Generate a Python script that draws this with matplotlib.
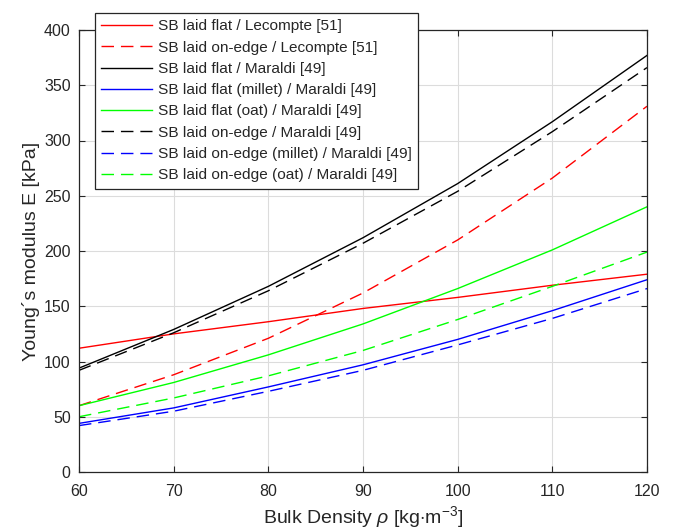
import matplotlib
matplotlib.use("Agg")
import matplotlib.pyplot as plt

plt.rcParams['font.family'] = ['Liberation Sans', 'DejaVu Sans']
plt.rcParams['mathtext.fontset'] = 'custom'
plt.rcParams['mathtext.rm'] = 'Liberation Sans'
plt.rcParams['mathtext.it'] = 'Liberation Sans:italic'

density = [60, 70, 80, 90, 100, 110, 120]

lecompte_flat = [112, 125, 136, 148, 158, 169, 179]
lecompte_edge = [60, 88, 121, 162, 210, 266, 331]
maraldi_flat = [94, 129, 168, 212, 261, 317, 377]
maraldi_flat_millet = [44, 58, 77, 97, 120, 146, 174]
maraldi_flat_oat = [60, 81, 106, 134, 166, 201, 240]
maraldi_edge = [92, 126, 164, 207, 254, 308, 366]
maraldi_edge_millet = [42, 55, 73, 92, 115, 139, 166]
maraldi_edge_oat = [50, 67, 87, 110, 138, 168, 199]

labels = [
    'SB laid flat / Lecompte [51]',
    'SB laid on-edge / Lecompte [51]',
    'SB laid flat / Maraldi [49]',
    'SB laid flat (millet) / Maraldi [49]',
    'SB laid flat (oat) / Maraldi [49]',
    'SB laid on-edge / Maraldi [49]',
    'SB laid on-edge (millet) / Maraldi [49]',
    'SB laid on-edge (oat) / Maraldi [49]',
]
series = [lecompte_flat, lecompte_edge, maraldi_flat, maraldi_flat_millet,
          maraldi_flat_oat, maraldi_edge, maraldi_edge_millet, maraldi_edge_oat]
colors = ['#ff0000', '#ff0000', '#000000', '#0000ff', '#00ff00', '#000000', '#0000ff', '#00ff00']
styles = ['-', '--', '-', '-', '-', '--', '--', '--']

fig = plt.figure(figsize=(6.76, 5.32), dpi=100)
ax = fig.add_axes([79/676, 1-472/532, (647-79)/676, (472-30)/532])

handles = []
for y, c, s, lab in zip(series, colors, styles, labels):
    kw = {}
    if s == '--':
        kw['dashes'] = (9, 5)
    h, = ax.plot(density, y, color=c, lw=1.0, label=lab, **kw)
    handles.append(h)

ax.set_xlim(60, 120)
ax.set_ylim(0, 400)
ax.set_xticks(range(60, 121, 10))
ax.set_yticks(range(0, 401, 50))
ax.grid(True, color='#dcdcdc', lw=0.8)
ax.set_axisbelow(True)
for sp in ax.spines.values():
    sp.set_color('#262626')
    sp.set_linewidth(0.9)
ax.tick_params(direction='in', top=True, right=True, length=4, width=0.8,
               colors='#262626', labelsize=11.5)
ax.tick_params(axis='x', pad=9)
ax.tick_params(axis='y', pad=6)

ax.set_xlabel(r'Bulk Density $\rho$ [kg$\cdot$m$^{-3}$]', fontsize=14, color='#262626', labelpad=3)
ax.set_ylabel('Young\u00b4s modulus E [kPa]', fontsize=14, color='#262626', labelpad=3)

leg = fig.legend(handles=handles, loc='upper left', bbox_to_anchor=(95/676, 1-13/532),
                 bbox_transform=fig.transFigure, fontsize=11.1, frameon=True, fancybox=False,
                 edgecolor='#262626', framealpha=1, handlelength=3.3, handletextpad=0.35,
                 borderpad=0.42, labelspacing=0.47, borderaxespad=0)
leg.get_frame().set_linewidth(0.9)
for t in leg.get_texts():
    t.set_color('#262626')

fig.savefig('out.png', dpi=100, facecolor='white')
